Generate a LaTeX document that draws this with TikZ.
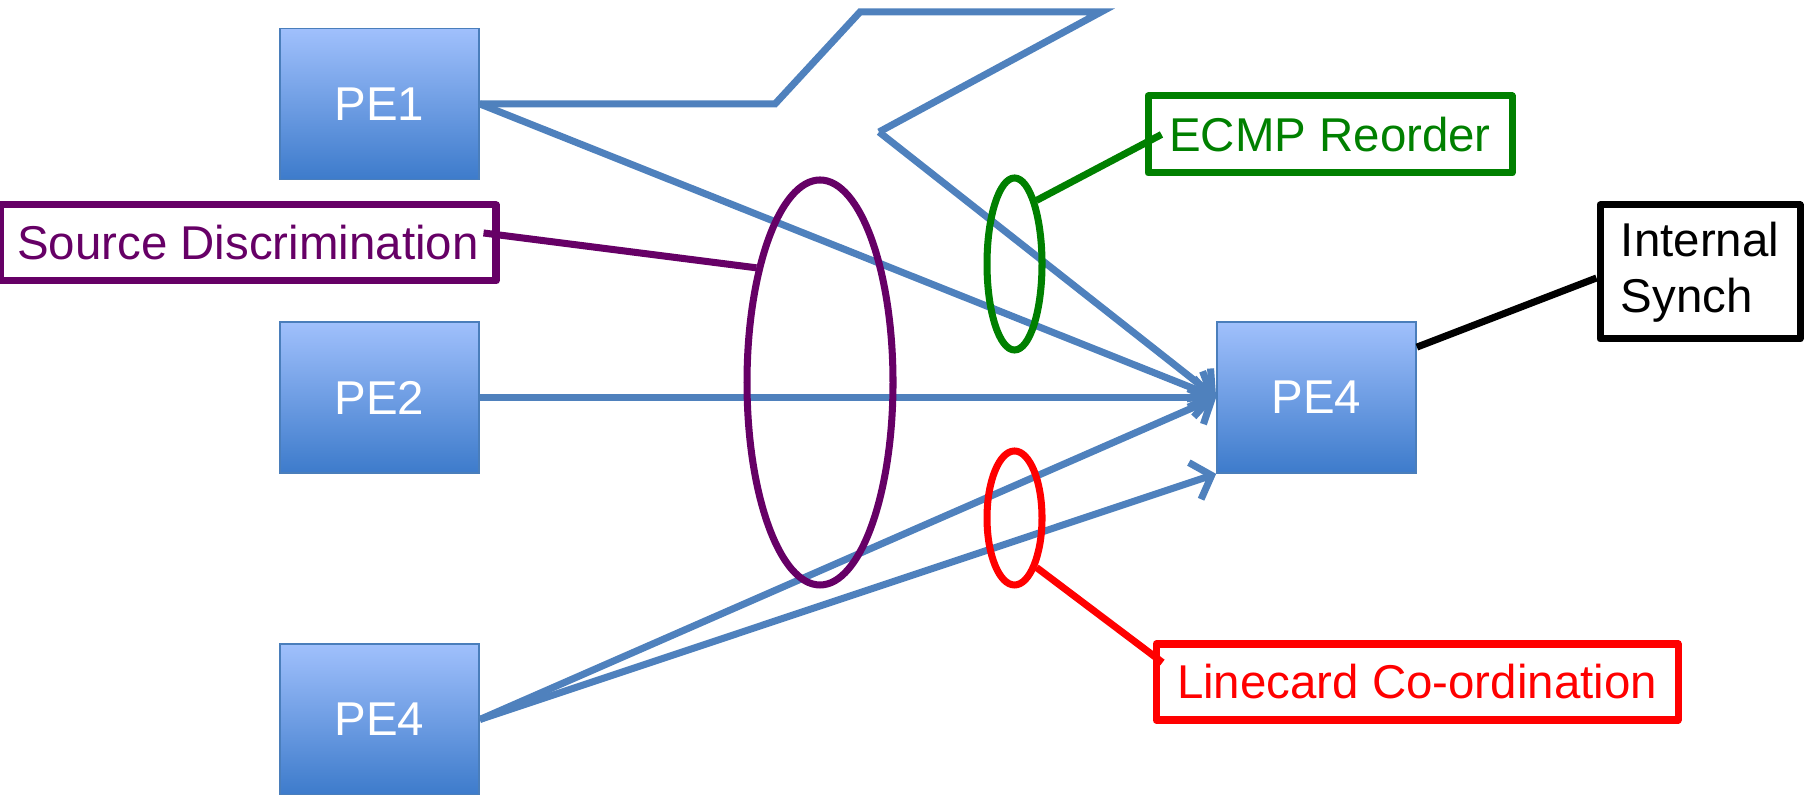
\documentclass[tikz,border=0pt]{standalone}
\usepackage{fontspec}
\setmainfont{Liberation Sans}
\usepackage{tikz}
\usetikzlibrary{arrows.meta,shapes.geometric}

\definecolor{blaa}{HTML}{4F81BD}
\definecolor{kant}{HTML}{4A7EBB}
\definecolor{lys}{HTML}{A0C0FC}
\definecolor{mork}{HTML}{3D7BCB}
\definecolor{lilla}{HTML}{660066}
\definecolor{gronn}{HTML}{008000}

\begin{document}
\begin{tikzpicture}[
    font=\fontsize{13.5}{16}\selectfont,
    boks/.style={draw=kant, line width=0.5pt, top color=lys, bottom color=mork,
      text=white, minimum width=1.99cm, minimum height=1.51cm, inner sep=0pt},
    etikett/.style={draw, line width=2pt, inner sep=0pt, line join=round},
    ring/.style={ellipse, draw, line width=2pt, inner sep=0pt},
    pil/.style={draw=blaa, line width=2pt, -{Straight Barb[length=5pt,width=11pt]}},
    lenke/.style={draw=blaa, line width=2pt}
  ]
  \useasboundingbox (0,0) rectangle (18.05,7.95);

  % Boksene
  \node[boks] (pe1) at (3.795, 6.91) {PE1};
  \node[boks] (pe2) at (3.795, 3.975) {PE2};
  \node[boks] (pe4l) at (3.795, 0.755) {PE4};
  \node[boks] (pe4r) at (13.165, 3.975) {PE4};

  % Etikettene
  \node[etikett, draw=lilla, text=lilla, minimum width=4.96cm, minimum height=0.76cm]
    (src) at (2.48, 5.52) {Source Discrimination};
  \node[etikett, draw=gronn, text=gronn, minimum width=3.64cm, minimum height=0.77cm]
    (ecmp) at (13.30, 6.605) {ECMP Reorder};
  \node[etikett, draw=black, align=left, minimum width=2.0cm, minimum height=1.34cm]
    (synch) at (17.00, 5.23) {Internal\\Synch};
  \node[etikett, draw=red, text=red, minimum width=5.22cm, minimum height=0.76cm]
    (lc) at (14.17, 1.13) {Linecard Co-ordination};

  % Hjelpepunkter for knekklinjen
  \coordinate (k1) at (7.75, 6.91);
  \coordinate (k2) at (8.60, 7.83);
  \coordinate (k3) at (11.01, 7.83);
  \coordinate (k4) at (8.79, 6.63);

  % Linjene
  \draw[lenke] (pe1.east) -- (k1) -- (k2) -- (k3) -- (k4);
  \draw[pil] (k4) -- (pe4r.west);
  \draw[pil] (pe1.east) -- (pe4r.west);
  \draw[pil] (pe2.east) -- (pe4r.west);
  \draw[pil] (pe4l.east) -- (pe4r.west);
  \draw[pil] (pe4l.east) -- (pe4r.south west);

  % Ringene
  \node[ring, draw=lilla, minimum width=1.46cm, minimum height=4.05cm] (rl) at (8.20, 4.125) {};
  \node[ring, draw=gronn, minimum width=0.55cm, minimum height=1.72cm] (rg) at (10.145, 5.31) {};
  \node[ring, draw=red, minimum width=0.55cm, minimum height=1.34cm] (rr) at (10.145, 2.77) {};

  % Forbindelser til etikettene
  \draw[lilla, line width=2pt] ([xshift=-1.6mm,yshift=1mm]src.east) -- (rl.119);
  \draw[gronn, line width=2pt] ([xshift=1.7mm]ecmp.west) -- (rg.71);
  \draw[red, line width=2pt] ([xshift=1mm,yshift=-2.2mm]lc.north west) -- (rr.-66);
  \draw[black, line width=2pt] ([yshift=-2.6mm]pe4r.north east) -- ([yshift=-0.6mm]synch.west);
\end{tikzpicture}
\end{document}
